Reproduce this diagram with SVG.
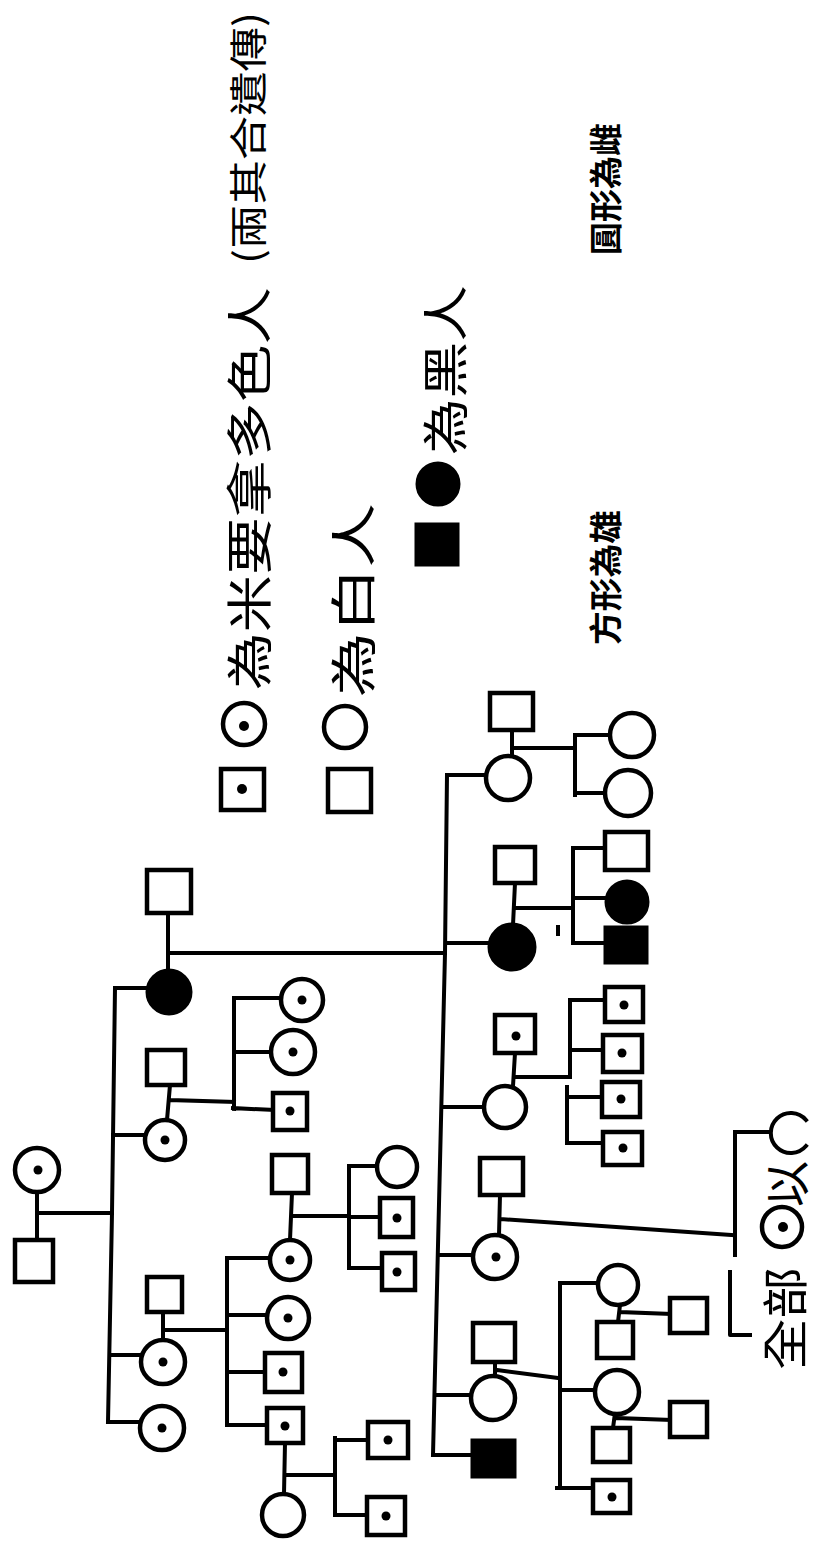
<svg xmlns="http://www.w3.org/2000/svg" width="814" height="1544" viewBox="0 0 814 1544">
<style>
.ln{stroke:#000;stroke-width:4;fill:none;stroke-linecap:square;stroke-linejoin:round}
.s{fill:#fff;stroke:#000;stroke-width:4.5}
.b{fill:#000;stroke:#000;stroke-width:3}
.d{fill:#000}
.hw{font-family:"Noto Sans CJK TC","Noto Sans CJK SC",sans-serif;font-size:46px;fill:#000}
.hs{font-family:"Noto Sans CJK TC","Noto Sans CJK SC",sans-serif;font-size:38px;fill:#000}
.pt{font-family:"Noto Sans CJK TC","Noto Sans CJK SC",sans-serif;font-size:33px;font-weight:700;fill:#000}
</style>
<rect width="814" height="1544" fill="#fff"/>

<g id="connectors">
<path class="ln" d="M37,1192 L37,1240 M37,1213 L112,1213"/>
<path class="ln" d="M115,988 L112,1213 L108,1422"/>
<path class="ln" d="M115,988 L147,988 M113,1135 L145,1135 M110,1355 L141,1355 M108,1422 L140,1422"/>
<path class="ln" d="M168,913 L168,970 M168,953 L445,953"/>
<path class="ln" d="M447,775 L445,953 L433,1455"/>
<path class="ln" d="M170,1085 L167,1120 M170,1100 L234,1102"/>
<path class="ln" d="M234,998 L234,1109 M234,998 L281,998 M234,1052 L271,1052 M233,1108 L273,1110"/>
<path class="ln" d="M163,1312 L163,1340 M163,1330 L227,1330"/>
<path class="ln" d="M227,1258 L227,1425 M227,1258 L270,1258 M227,1315 L267,1315 M227,1372 L265,1372 M227,1425 L267,1425"/>
<path class="ln" d="M292,1193 L290,1240 M292,1216 L349,1216"/>
<path class="ln" d="M349,1166 L349,1268 M349,1166 L377,1166 M349,1217 L380,1217 M349,1268 L382,1268"/>
<path class="ln" d="M285,1443 L284,1494 M285,1475 L335,1475"/>
<path class="ln" d="M335,1438 L335,1515 M335,1440 L368,1440 M335,1515 L367,1515"/>
<path class="ln" d="M447,775 L486,775 M447,943 L489,943 M443,1107 L484,1107 M440,1255 L473,1255 M435,1395 L471,1395 M433,1455 L472,1455"/>
<path class="ln" d="M512,730 L512,757 M512,748 L575,748"/>
<path class="ln" d="M575,735 L575,795 M575,735 L610,735 M575,793 L605,793"/>
<path class="ln" d="M515,883 L513,925 M515,908 L573,908"/>
<path class="ln" d="M573,848 L573,943 M573,848 L605,848 M573,898 L605,898 M573,943 L605,943"/>
<path class="ln" d="M515,1053 L513,1086 M515,1077 L570,1077"/>
<path class="ln" d="M570,1000 L570,1077 M567,1087 L567,1143 M570,1000 L605,1000 M570,1050 L603,1050 M567,1097 L602,1097 M567,1143 L603,1143"/>
<path class="ln" d="M500,1195 L499,1235 M500,1219 L733,1235"/>
<path class="ln" d="M735,1132 L735,1255 M730,1272 L730,1335 L750,1335 M735,1132 L770,1132"/>
<path class="ln" d="M495,1362 L495,1376 M497,1370 L558,1378"/>
<path class="ln" d="M560,1283 L560,1488 M560,1283 L598,1283 M560,1390 L595,1390 M557,1488 L593,1488"/>
<path class="ln" d="M620,1305 L618,1322 M620,1312 L670,1314"/>
<path class="ln" d="M615,1413 L613,1428 M617,1418 L670,1420"/>
</g>

<g id="I1"><circle class="s" cx="37" cy="1170" r="22"/><circle class="d" cx="38" cy="1170" r="4.5"/></g>
<g id="I2"><rect class="s" x="15" y="1240" width="38" height="42"/></g>

<g id="II1"><circle class="b" cx="169" cy="992" r="22"/></g>
<g id="II1s"><rect class="s" x="147" y="870" width="44" height="43"/></g>
<g id="II2"><circle class="s" cx="165" cy="1140" r="20"/><circle class="d" cx="165" cy="1140" r="4.5"/></g>
<g id="II2s"><rect class="s" x="147" y="1050" width="38" height="35"/></g>
<g id="III1"><circle class="s" cx="302" cy="1000" r="21"/><circle class="d" cx="302" cy="1000" r="4.5"/></g>
<g id="III2"><circle class="s" cx="293" cy="1052" r="22"/><circle class="d" cx="293" cy="1052" r="4.5"/></g>
<g id="III3"><rect class="s" x="273" y="1093" width="34" height="37"/><circle class="d" cx="290" cy="1111" r="4.5"/></g>

<g id="II3"><circle class="s" cx="163" cy="1362" r="22"/><circle class="d" cx="163" cy="1362" r="4.5"/></g>
<g id="II3s"><rect class="s" x="147" y="1277" width="35" height="35"/></g>
<g id="III4"><circle class="s" cx="290" cy="1260" r="20"/><circle class="d" cx="290" cy="1260" r="4.5"/></g>
<g id="III4s"><rect class="s" x="272" y="1155" width="36" height="38"/></g>
<g id="IV1"><circle class="s" cx="397" cy="1167" r="20"/></g>
<g id="IV2"><rect class="s" x="380" y="1198" width="33" height="39"/><circle class="d" cx="397" cy="1218" r="4.5"/></g>
<g id="IV3"><rect class="s" x="382" y="1253" width="33" height="37"/><circle class="d" cx="397" cy="1272" r="4.5"/></g>
<g id="III5"><circle class="s" cx="288" cy="1318" r="21"/><circle class="d" cx="288" cy="1318" r="4.5"/></g>
<g id="III6"><rect class="s" x="265" y="1353" width="37" height="39"/><circle class="d" cx="283" cy="1372" r="4.5"/></g>
<g id="III7"><rect class="s" x="267" y="1408" width="36" height="35"/><circle class="d" cx="285" cy="1426" r="4.5"/></g>
<g id="III7s"><circle class="s" cx="283" cy="1515" r="21"/></g>
<g id="IV4"><rect class="s" x="368" y="1422" width="40" height="36"/><circle class="d" cx="388" cy="1440" r="4.5"/></g>
<g id="IV5"><rect class="s" x="367" y="1497" width="38" height="38"/><circle class="d" cx="386" cy="1516" r="4.5"/></g>
<g id="II4"><circle class="s" cx="162" cy="1428" r="22"/><circle class="d" cx="162" cy="1428" r="4.5"/></g>

<g id="B1"><circle class="s" cx="508" cy="778" r="22"/></g>
<g id="B1s"><rect class="s" x="490" y="693" width="43" height="37"/></g>
<g id="B1c1"><circle class="s" cx="632" cy="735" r="22"/></g>
<g id="B1c2"><circle class="s" cx="628" cy="793" r="23"/></g>
<g id="B2"><circle class="b" cx="512" cy="947" r="23"/></g>
<g id="B2s"><rect class="s" x="495" y="847" width="40" height="36"/></g>
<g id="B2c1"><rect class="s" x="605" y="832" width="43" height="38"/></g>
<g id="B2c2"><circle class="b" cx="627" cy="902" r="21"/></g>
<g id="B2c3"><rect class="b" x="605" y="927" width="42" height="36"/></g>
<rect id="mark" x="556" y="925" width="4" height="11" fill="#000"/>
<g id="B3"><circle class="s" cx="505" cy="1107" r="21"/></g>
<g id="B3s"><rect class="s" x="495" y="1015" width="40" height="38"/><circle class="d" cx="516" cy="1036" r="4.5"/></g>
<g id="B3c1"><rect class="s" x="605" y="987" width="38" height="35"/><circle class="d" cx="624" cy="1005" r="4.5"/></g>
<g id="B3c2"><rect class="s" x="603" y="1035" width="39" height="37"/><circle class="d" cx="622" cy="1053" r="4.5"/></g>
<g id="B3c3"><rect class="s" x="602" y="1082" width="38" height="35"/><circle class="d" cx="621" cy="1099" r="4.5"/></g>
<g id="B3c4"><rect class="s" x="603" y="1132" width="39" height="33"/><circle class="d" cx="623" cy="1148" r="4.5"/></g>
<g id="B4"><circle class="s" cx="495" cy="1257" r="22"/><circle class="d" cx="496" cy="1257" r="4.5"/></g>
<g id="B4s"><rect class="s" x="480" y="1158" width="43" height="37"/></g>
<g id="B4c"><path class="ln" d="M806,1120 A20,20 0 1,0 806,1146"/></g>
<g id="B5"><circle class="s" cx="493" cy="1398" r="22"/></g>
<g id="B5s"><rect class="s" x="473" y="1323" width="42" height="39"/></g>
<g id="B5c1"><circle class="s" cx="618" cy="1285" r="20"/></g>
<g id="B5c1s"><rect class="s" x="597" y="1322" width="36" height="36"/></g>
<g id="B5c1k"><rect class="s" x="670" y="1298" width="37" height="35"/></g>
<g id="B5c2"><circle class="s" cx="617" cy="1392" r="22"/></g>
<g id="B5c2s"><rect class="s" x="593" y="1428" width="37" height="34"/></g>
<g id="B5c2k"><rect class="s" x="670" y="1402" width="37" height="35"/></g>
<g id="B5c3"><rect class="s" x="593" y="1480" width="37" height="33"/><circle class="d" cx="612" cy="1497" r="4.5"/></g>
<g id="B6"><rect class="b" x="472" y="1440" width="43" height="37"/></g>

<g id="note">
<text class="hw" transform="translate(802,1370) rotate(-90)" textLength="103" lengthAdjust="spacingAndGlyphs">全部</text>
<circle class="s" cx="782" cy="1227" r="20"/><circle class="d" cx="783" cy="1227" r="5"/>
<text class="hw" transform="translate(804,1207) rotate(-90)">以</text>
</g>

<g id="legend1">
<rect class="s" x="221" y="769" width="43" height="41"/><circle class="d" cx="242" cy="789" r="5"/>
<circle class="s" cx="244" cy="724" r="21"/><circle class="d" cx="244" cy="726" r="5"/>
<text class="hw" transform="translate(266,690) rotate(-90)" textLength="403" lengthAdjust="spacingAndGlyphs">為米要拿多色人</text>
<text class="hs" transform="translate(262,264) rotate(-90)" textLength="252" lengthAdjust="spacingAndGlyphs">(兩其合遺傳)</text>
</g>
<g id="legend2">
<rect class="s" x="328" y="769" width="43" height="43"/>
<circle class="s" cx="345" cy="727" r="21"/>
<text class="hw" transform="translate(370,697) rotate(-90)" textLength="194" lengthAdjust="spacingAndGlyphs">為白人</text>
</g>
<g id="legend3">
<rect class="b" x="416" y="524" width="42" height="41"/>
<circle class="b" cx="438" cy="484" r="21"/>
<text class="hw" transform="translate(462,455) rotate(-90)" textLength="170" lengthAdjust="spacingAndGlyphs">為黑人</text>
</g>
<g id="legend4">
<text class="pt" transform="translate(618,645) rotate(-90)" textLength="135" lengthAdjust="spacingAndGlyphs">方形為雄</text>
<text class="pt" transform="translate(618,255) rotate(-90)" textLength="132" lengthAdjust="spacingAndGlyphs">圓形為雌</text>
</g>
</svg>
